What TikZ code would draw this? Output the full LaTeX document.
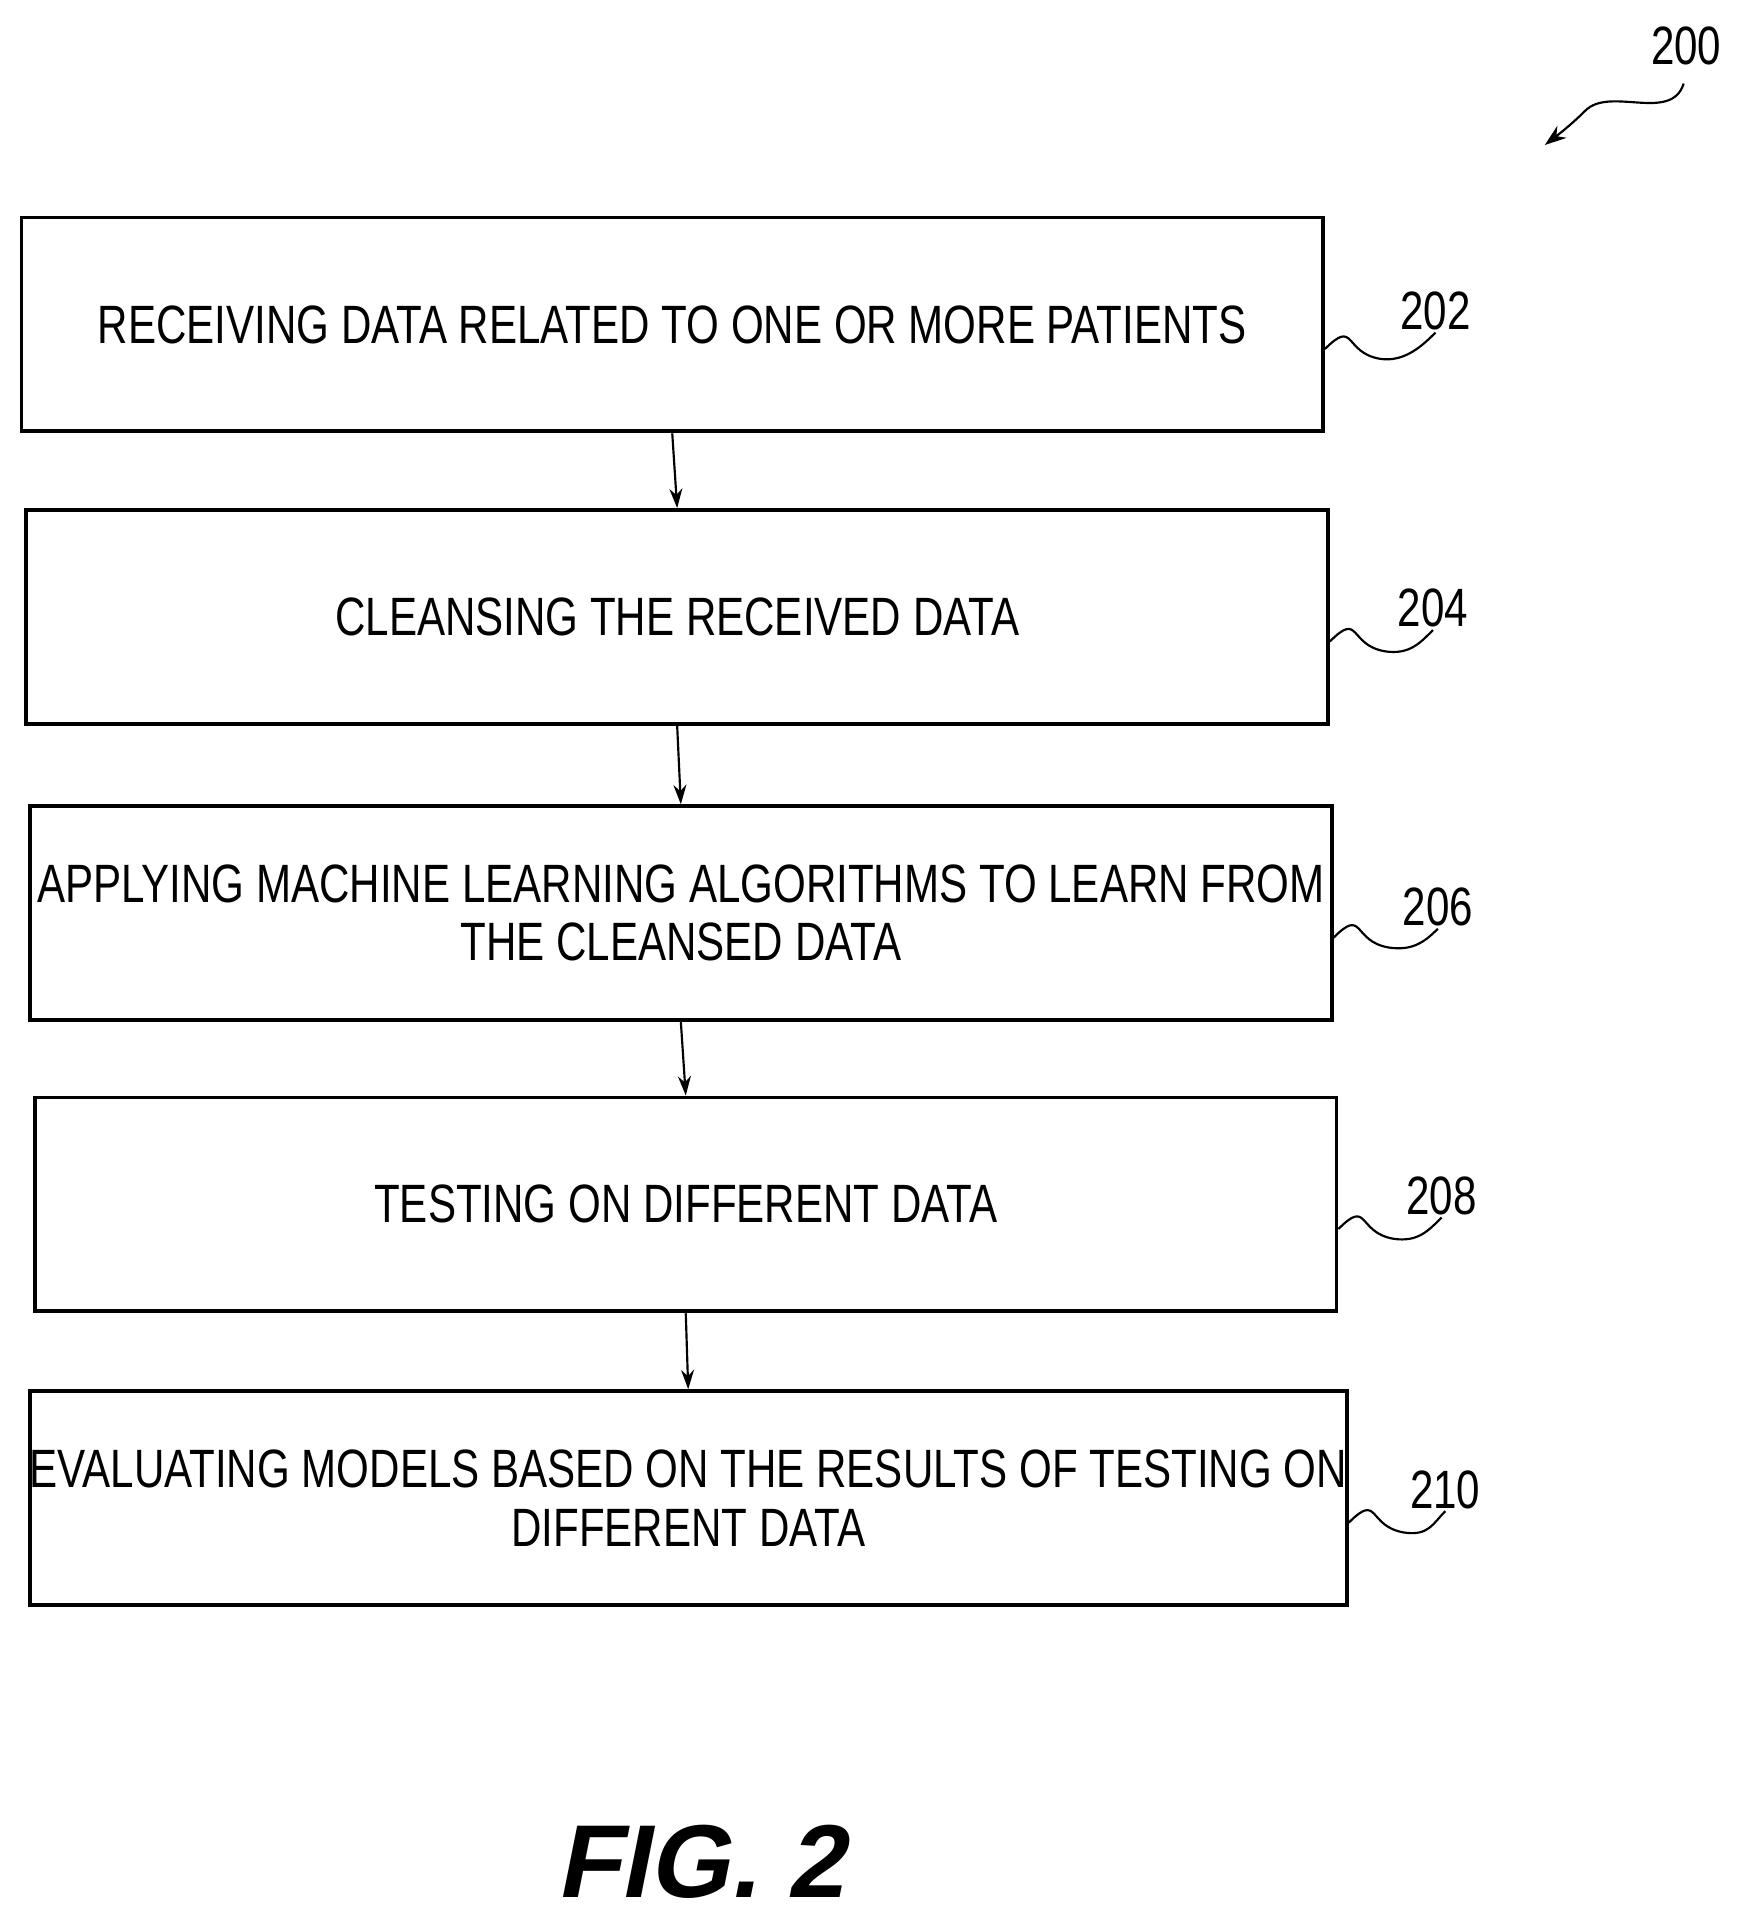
\documentclass[tikz,border=0pt]{standalone}
\usetikzlibrary{arrows.meta}
\usepackage{fontspec}
\setmainfont{Liberation Sans}[FakeStretch=0.78]
\newfontfamily\figfont{Liberation Sans}[FakeSlant=0.2]
\begin{document}
\begin{tikzpicture}[x=0.02cm,y=-0.02cm,
  box/.style={draw,line width=1.8pt,minimum width=1059*0.02cm,minimum height=174*0.02cm,align=center,font=\fontsize{25}{27}\selectfont,inner sep=0pt},
  arr/.style={-{Stealth[length=9pt,width=6pt]},line width=1pt},
  sq/.style={line width=1pt},
  num/.style={font=\fontsize{25}{27}\selectfont,inner sep=1pt}]
\useasboundingbox (0,0) rectangle (1414,1568);
\node[box] (b1) at (547,264) {RECEIVING DATA RELATED TO ONE OR MORE PATIENTS};
\node[box] (b2) at (551,502) {CLEANSING THE RECEIVED DATA};
\node[box] (b3) at (554,743) {APPLYING MACHINE LEARNING ALGORITHMS TO LEARN FROM\\THE CLEANSED DATA};
\node[box] (b4) at (558,980) {TESTING ON DIFFERENT DATA};
\node[box] (b5) at (560,1219) {EVALUATING MODELS BASED ON THE RESULTS OF TESTING ON\\DIFFERENT DATA};
\draw[arr] (b1.south) -- (b2.north);
\draw[arr] (b2.south) -- (b3.north);
\draw[arr] (b3.south) -- (b4.north);
\draw[arr] (b4.south) -- (b5.north);
\node[num] (n202) at (1168,253) {202};
\node[num] (n204) at (1166,495) {204};
\node[num] (n206) at (1170,738) {206};
\node[num] (n208) at (1173,973) {208};
\node[num] (n210) at (1176,1212) {210};
\foreach \b/\n in {b1/n202,b2/n204,b3/n206,b4/n208,b5/n210}{
  \draw[sq] (\b.east) ++(0,20) .. controls +(25,-25) and +(-30,-5) .. ++(45,8) .. controls +(20,3) and +(-10,10) .. (\n.south);
}
\node[num] (n200) at (1372,37) {200};
\coordinate (a0) at (1370,68);
\coordinate (a1) at (1257,118);
\draw[sq,-{Stealth[length=10pt,width=7pt]}] (a0) .. controls (1360,100) and (1310,70) .. (1290,90) .. controls (1280,100) and (1270,108) .. (a1);
\node[font=\figfont\bfseries\fontsize{48}{50}\selectfont] (fig) at (570,1515) {FIG. 2};
\end{tikzpicture}
\end{document}
